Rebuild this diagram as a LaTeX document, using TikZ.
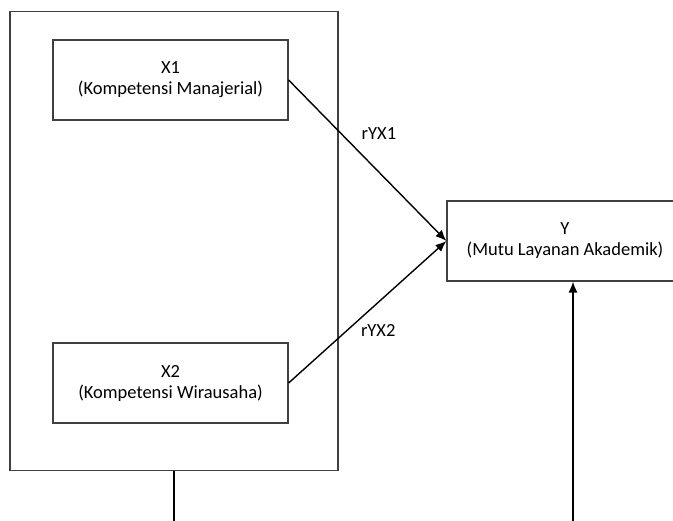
\documentclass[tikz,border=0pt]{standalone}
\usepackage{fontspec}
\setmainfont{Carlito}
\usetikzlibrary{arrows.meta}

\begin{document}
\begin{tikzpicture}[x=1pt, y=-1pt, font=\fontsize{18.5}{21}\selectfont,
  main/.style = {draw=black!75, line width=1.2pt, rectangle, align=center, inner sep=0pt},
  link/.style = {line width=1.4pt, -{Latex[length=11pt, width=9pt]}}]
\useasboundingbox (0,0) rectangle (673,521);
\node[main, minimum width=328pt, minimum height=459pt] (0) at (174,241) {};
\node[main, minimum width=235pt, minimum height=80pt] (1) at (170.5,80) {X1\\(Kompetensi Manajerial)};
\node[main, minimum width=235pt, minimum height=80pt] (2) at (170.5,383) {X2\\(Kompetensi Wirausaha)};
\node[main, minimum width=236pt, minimum height=80pt] (3) at (565,241) {Y\\(Mutu Layanan Akademik)};
\coordinate (4) at (174,521);
\coordinate (5) at (573,521);
\draw[link] (1.east) -- node[pos=0.33, right, xshift=17pt] {rYX1} (3.west);
\draw[link] (2.east) -- node[pos=0.37, right, xshift=10pt] {rYX2} (3.west);
\draw[line width=1.4pt] (0) -- (4);
\draw[link] (5) -- (5 |- 3.south);
\end{tikzpicture}
\end{document}
